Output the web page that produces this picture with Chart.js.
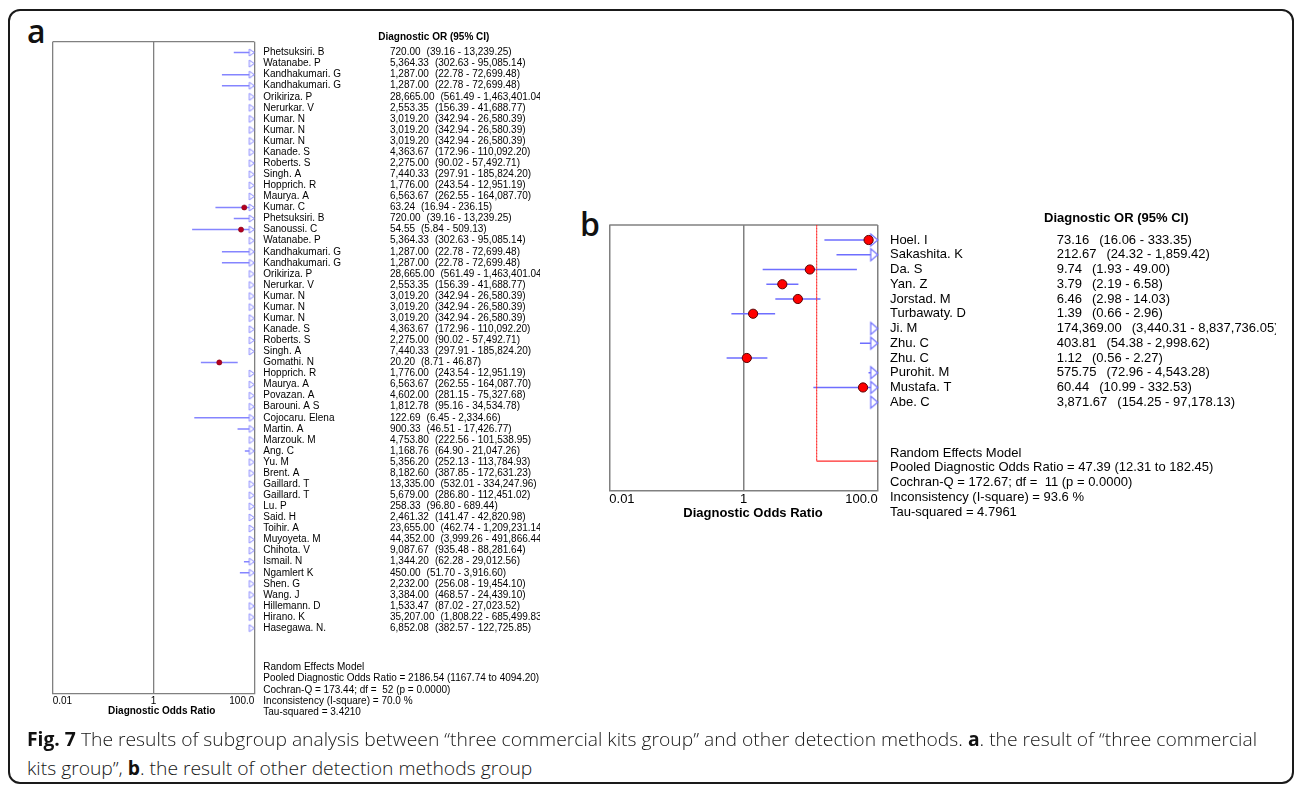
<!DOCTYPE html>
<html>
<head>
<meta charset="utf-8">
<script src="https://cdn.jsdelivr.net/npm/chart.js@4"></script>
<style>
  body { margin: 0; background: #fff; }
  #page { position: relative; width: 1295px; height: 787px; overflow: hidden; background: #fff; }
  #frame { position: absolute; left: 8px; top: 9px; width: 1286px; height: 775px; border: 2px solid #1a1a1a; border-radius: 12px; box-sizing: border-box; }
  canvas { position: absolute; }
  .lab { position: absolute; font-family: "Open Sans", sans-serif; font-weight: 600; font-size: 32px; line-height: 32px; color: #111; }
  .cap { position: absolute; left: 27px; white-space: nowrap; font-family: "Open Sans", sans-serif; font-weight: 300; font-size: 19px; line-height: 24px; color: #161616; transform-origin: 0 50%; }
  .cap b { font-weight: 700; color: #111; }
</style>
</head>
<body>
<div id="page">
  <div id="frame"></div>
  <div class="lab" style="left:27px;top:15px">a</div>
  <div class="lab" style="left:580px;top:208px">b</div>
  <canvas id="chartA" width="540" height="730" style="left:0;top:0"></canvas>
  <canvas id="chartB" width="696" height="330" style="left:580px;top:195px"></canvas>
  <div class="cap" id="cap1" style="top:727px"><span><b>Fig. 7</b> The results of subgroup analysis between “three commercial kits group” and other detection methods. <b>a</b>. the result of “three commercial</span></div>
  <div class="cap" id="cap2" style="top:756px"><span>kits group”, <b>b</b>. the result of other detection methods group</span></div>
</div>
<script>
// x axis ticks shared by both panels
const tickValues = [0.01, 1, 100];
const tickLabels = ['0.01', '1', '100.0'];

// panel a: three commercial kits group
const studiesA = [
  'Phetsuksiri. B', 'Watanabe. P', 'Kandhakumari. G', 'Kandhakumari. G', 'Orikiriza. P', 'Nerurkar. V',
  'Kumar. N', 'Kumar. N', 'Kumar. N', 'Kanade. S', 'Roberts. S', 'Singh. A', 'Hopprich. R', 'Maurya. A',
  'Kumar. C', 'Phetsuksiri. B', 'Sanoussi. C', 'Watanabe. P', 'Kandhakumari. G', 'Kandhakumari. G',
  'Orikiriza. P', 'Nerurkar. V', 'Kumar. N', 'Kumar. N', 'Kumar. N', 'Kanade. S', 'Roberts. S', 'Singh. A',
  'Gomathi. N', 'Hopprich. R', 'Maurya. A', 'Povazan. A', 'Barouni. A S', 'Cojocaru. Elena', 'Martin. A',
  'Marzouk. M', 'Ang. C', 'Yu. M', 'Brent. A', 'Gaillard. T', 'Gaillard. T', 'Lu. P', 'Said. H', 'Toihir. A',
  'Muyoyeta. M', 'Chihota. V', 'Ismail. N', 'Ngamlert K', 'Shen. G', 'Wang. J', 'Hillemann. D', 'Hirano. K',
  'Hasegawa. N.'
];
const orA = [
  720.00, 5364.33, 1287.00, 1287.00, 28665.00, 2553.35, 3019.20, 3019.20, 3019.20, 4363.67, 2275.00, 7440.33,
  1776.00, 6563.67, 63.24, 720.00, 54.55, 5364.33, 1287.00, 1287.00, 28665.00, 2553.35, 3019.20, 3019.20,
  3019.20, 4363.67, 2275.00, 7440.33, 20.20, 1776.00, 6563.67, 4602.00, 1812.78, 122.69, 900.33, 4753.80,
  1168.76, 5356.20, 8182.60, 13335.00, 5679.00, 258.33, 2461.32, 23655.00, 44352.00, 9087.67, 1344.20,
  450.00, 2232.00, 3384.00, 1533.47, 35207.00, 6852.08
];
const loA = [
  39.16, 302.63, 22.78, 22.78, 561.49, 156.39, 342.94, 342.94, 342.94, 172.96, 90.02, 297.91,
  243.54, 262.55, 16.94, 39.16, 5.84, 302.63, 22.78, 22.78, 561.49, 156.39, 342.94, 342.94,
  342.94, 172.96, 90.02, 297.91, 8.71, 243.54, 262.55, 281.15, 95.16, 6.45, 46.51, 222.56,
  64.90, 252.13, 387.85, 532.01, 286.80, 96.80, 141.47, 462.74, 3999.26, 935.48, 62.28,
  51.70, 256.08, 468.57, 87.02, 1808.22, 382.57
];
const hiA = [
  13239.25, 95085.14, 72699.48, 72699.48, 1463401.04, 41688.77, 26580.39, 26580.39, 26580.39, 110092.20, 57492.71, 185824.20,
  12951.19, 164087.70, 236.15, 13239.25, 509.13, 95085.14, 72699.48, 72699.48, 1463401.04, 41688.77, 26580.39, 26580.39,
  26580.39, 110092.20, 57492.71, 185824.20, 46.87, 12951.19, 164087.70, 75327.68, 34534.78, 2334.66, 17426.77, 101538.95,
  21047.26, 113784.93, 172631.23, 334247.96, 112451.02, 689.44, 42820.98, 1209231.14, 491866.44, 88281.64, 29012.56,
  3916.60, 19454.10, 24439.10, 27023.52, 685499.83, 122725.85
];
const pooledA = [2186.54, 1167.74, 4094.20];
const statsA = [
  'Random Effects Model',
  'Pooled Diagnostic Odds Ratio = 2186.54 (1167.74 to 4094.20)',
  'Cochran-Q = 173.44; df =  52 (p = 0.0000)',
  'Inconsistency (I-square) = 70.0 %',
  'Tau-squared = 3.4210'
];

// panel b: other detection methods group
const studiesB = ['Hoel. I', 'Sakashita. K', 'Da. S', 'Yan. Z', 'Jorstad. M', 'Turbawaty. D', 'Ji. M', 'Zhu. C', 'Zhu. C', 'Purohit. M', 'Mustafa. T', 'Abe. C'];
const orB = [73.16, 212.67, 9.74, 3.79, 6.46, 1.39, 174369.00, 403.81, 1.12, 575.75, 60.44, 3871.67];
const loB = [16.06, 24.32, 1.93, 2.19, 2.98, 0.66, 3440.31, 54.38, 0.56, 72.96, 10.99, 154.25];
const hiB = [333.35, 1859.42, 49.00, 6.58, 14.03, 2.96, 8837736.05, 2998.62, 2.27, 4543.28, 332.53, 97178.13];
const pooledB = [47.39, 12.31, 182.45];
const statsB = [
  'Random Effects Model',
  'Pooled Diagnostic Odds Ratio = 47.39 (12.31 to 182.45)',
  'Cochran-Q = 172.67; df =  11 (p = 0.0000)',
  'Inconsistency (I-square) = 93.6 %',
  'Tau-squared = 4.7961'
];

const FONT = '"Liberation Sans", Arial, sans-serif';
Chart.defaults.font.family = FONT;

function fmt(v) {
  return v.toLocaleString('en-US', { minimumFractionDigits: 2, maximumFractionDigits: 2 });
}

// open triangle, tip at the centre of the image so it sits on the axis max
function makeArrow(w, h, color, lw) {
  const c = document.createElement('canvas');
  c.width = 2 * w + 4;
  c.height = h + 4;
  const g = c.getContext('2d');
  g.strokeStyle = color;
  g.fillStyle = '#fff';
  g.lineWidth = lw;
  g.beginPath();
  g.moveTo(2, 2);
  g.lineTo(w + 2, 2 + h / 2);
  g.lineTo(2, 2 + h);
  g.closePath();
  g.fill();
  g.stroke();
  return c;
}

function tableText(t) {
  return {
    id: 'tableText',
    beforeDatasetsDraw(chart) {
      const { ctx, chartArea: a } = chart;
      ctx.save();
      ctx.strokeStyle = '#808080';
      ctx.lineWidth = t.boxWidth;
      ctx.beginPath();
      ctx.moveTo(a.left, a.top);
      ctx.lineTo(a.right, a.top);
      ctx.stroke();
      ctx.restore();
    },
    afterDraw(chart) {
      const { ctx, chartArea: a } = chart;
      const y = chart.scales.y;
      const regular = t.size + 'px ' + FONT;
      const bold = 'bold ' + t.size + 'px ' + FONT;
      ctx.save();
      ctx.fillStyle = '#000';
      ctx.textBaseline = 'middle';
      ctx.textAlign = 'left';
      ctx.font = bold;
      ctx.fillText('Diagnostic OR (95% CI)', a.right + t.headX, y.getPixelForValue(t.headRow));
      ctx.font = regular;
      t.names.forEach((name, i) => {
        const py = y.getPixelForValue(i);
        ctx.fillText(name, a.right + t.nameX, py);
        const v = fmt(t.or[i]);
        ctx.fillText(v, a.right + t.valX, py);
        const w = ctx.measureText(v).width;
        ctx.fillText('(' + fmt(t.lo[i]) + ' - ' + fmt(t.hi[i]) + ')', a.right + t.valX + w + t.gap, py);
      });
      t.stats.forEach((s, k) => {
        ctx.fillText(s, a.right + t.nameX, y.getPixelForValue(t.statRow + k * t.statStep));
      });
      ctx.font = bold;
      ctx.textAlign = 'center';
      ctx.fillText('Diagnostic Odds Ratio', (a.left + a.right) / 2 + t.titleDx, a.bottom + t.titleDy);
      ctx.restore();
    }
  };
}

function forest(id, p) {
  const xMax = tickValues[tickValues.length - 1];
  const ci = [];
  p.lo.forEach((l, i) => {
    ci.push({ x: l, y: i }, { x: p.hi[i], y: i }, { x: null, y: i });
  });
  const dots = [];
  p.or.forEach((v, i) => { if (v < xMax) dots.push({ x: v, y: i }); });
  const arrows = [];
  p.hi.forEach((v, i) => { if (v > xMax) arrows.push({ x: xMax, y: i }); });
  const pooled = [
    { x: p.pooled[1], y: p.yMin },
    { x: p.pooled[1], y: p.pooledRow },
    { x: p.pooled[2], y: p.pooledRow }
  ];

  return new Chart(document.getElementById(id), {
    type: 'scatter',
    data: {
      datasets: [
        {
          data: dots,
          pointRadius: p.dotR,
          backgroundColor: p.dotFill,
          borderColor: p.dotEdge,
          borderWidth: p.dotEdgeW,
          clip: false
        },
        {
          data: arrows,
          pointStyle: makeArrow(p.arrowW, p.arrowH, p.lineColor, p.arrowLw),
          clip: false
        },
        {
          type: 'line',
          data: pooled,
          showLine: true,
          borderColor: '#ff2a2a',
          pointRadius: 0,
          clip: 0,
          segment: {
            borderDash: c => c.p0DataIndex === 0 ? [1.5, 1.5] : undefined,
            borderWidth: c => c.p0DataIndex === 0 ? 0.8 : 1.2
          }
        },
        {
          type: 'line',
          data: ci,
          showLine: true,
          spanGaps: false,
          borderColor: p.lineColor,
          borderWidth: p.lineW,
          pointRadius: 0,
          clip: 0
        }
      ]
    },
    options: {
      responsive: false,
      animation: false,
      events: [],
      layout: { padding: p.padding },
      plugins: { legend: { display: false }, tooltip: { enabled: false } },
      scales: {
        x: {
          type: 'logarithmic',
          min: tickValues[0],
          max: xMax,
          afterBuildTicks: s => { s.ticks = tickValues.map(v => ({ value: v })); },
          afterFit: s => { s.height = p.axisH; },
          grid: { color: '#808080', lineWidth: p.boxWidth, drawTicks: false },
          border: { color: '#808080', width: p.boxWidth },
          ticks: {
            autoSkip: false,
            maxRotation: 0,
            align: 'inner',
            padding: p.tickPad,
            color: '#000',
            font: { size: p.size },
            callback: (v, i) => tickLabels[i]
          }
        },
        y: {
          type: 'linear',
          reverse: true,
          min: p.yMin,
          max: p.yMax,
          display: false
        }
      }
    },
    plugins: [tableText(p)]
  });
}

forest('chartA', {
  names: studiesA, or: orA, lo: loA, hi: hiA, pooled: pooledA, stats: statsA,
  yMin: -0.976, yMax: 57.886, pooledRow: 55,
  padding: { left: 52.7, top: 41.7, right: 285.7, bottom: 0 }, axisH: 36.7, tickPad: 2,
  size: 10, boxWidth: 1.3, lineColor: '#8585ff', lineW: 1.5,
  dotR: 2.6, dotFill: '#b5001f', dotEdge: '#7a0012', dotEdgeW: 0.5,
  arrowW: 5, arrowH: 7, arrowLw: 1,
  nameX: 9, valX: 135.7, headX: 124, headRow: -1.4, gap: 6,
  statRow: 55.55, statStep: 1.012, titleDx: 8.2, titleDy: 18.4
});

forest('chartB', {
  names: studiesB, or: orB, lo: loB, hi: hiB, pooled: pooledB, stats: statsB,
  yMin: -1.017, yMax: 17.0, pooledRow: 15,
  padding: { left: 29.3, top: 30, right: 398.3, bottom: 0 }, axisH: 34.3, tickPad: 1,
  size: 13, boxWidth: 1.5, lineColor: '#6e6eff', lineW: 1.4,
  dotR: 4.6, dotFill: '#ff0000', dotEdge: '#5a0000', dotEdgeW: 1,
  arrowW: 7, arrowH: 12, arrowLw: 1.2,
  nameX: 12.3, valX: 179, headX: 166.3, headRow: -1.47, gap: 10,
  statRow: 14.44, statStep: 1.01, titleDx: 9.5, titleDy: 22.6
});

// caption typeset in a condensed width like the journal figure
const line1 = document.querySelector('#cap1 span');
const k = 1230 / line1.getBoundingClientRect().width;
document.getElementById('cap1').style.transform = 'scaleX(' + k + ')';
document.getElementById('cap2').style.transform = 'scaleX(' + k + ')';
</script>
</body>
</html>
